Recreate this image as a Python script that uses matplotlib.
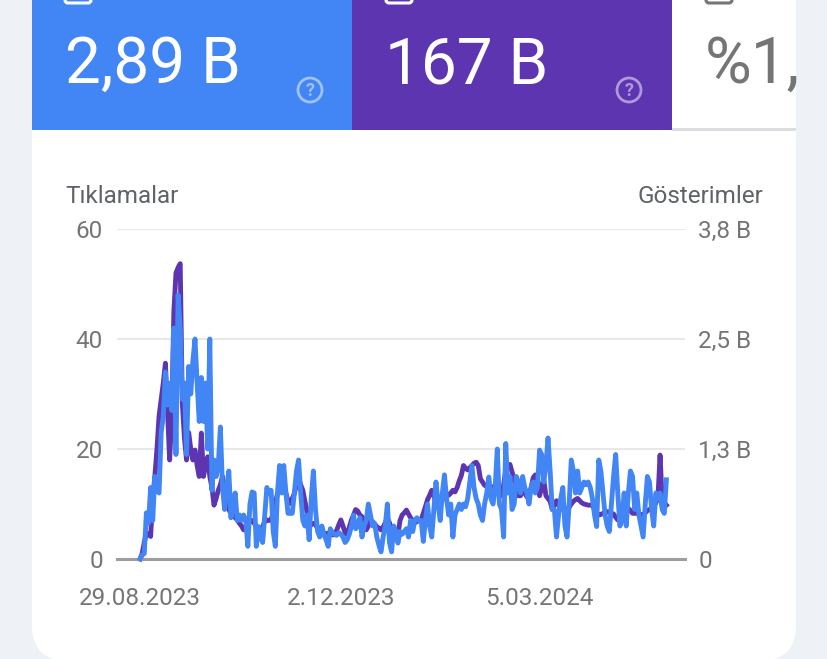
import matplotlib
matplotlib.use('Agg')
import matplotlib.pyplot as plt
from matplotlib.patches import FancyBboxPatch, Rectangle, Circle
import pandas as pd

plt.rcParams['font.family'] = ['Roboto', 'DejaVu Sans']

# ---- data ----
start_date = '2023-08-29'
clicks = [
    0, 0.7, 1, 8.4, 6.5, 13, 7, 15, 12.5, 12,
    23, 26, 34, 28, 32, 27, 42, 19, 48, 42,
    29, 32, 19, 35, 30, 36, 40, 32, 25, 33,
    25, 32, 20, 40, 12.5, 18, 15, 17, 24, 13,
    9, 13, 16, 7.5, 10, 12, 7, 8, 7, 8,
    7, 2.3, 10, 12.2, 12, 2.3, 5.9, 4, 3, 8,
    13, 12, 12.5, 5, 2.3, 12, 17, 12, 17, 12,
    8.3, 8.3, 8.3, 12, 16, 18, 12, 7, 6, 8,
    3.5, 11, 16, 9, 5, 4, 6, 4.5, 3.5, 2.3,
    5.5, 4.8, 4.5, 4.3, 4.8, 4.5, 4, 3, 3.5, 4.5,
    6, 8, 5.5, 6, 7.5, 4, 6, 7, 10, 8,
    6, 6.5, 4, 2.5, 1.3, 4, 6, 10, 3, 1.3,
    6, 5, 2.9, 5, 4.5, 5, 5.5, 4, 7, 5,
    7, 7.5, 7, 7, 3.2, 7, 10, 6, 4, 9,
    14, 10, 7, 12, 15.3, 11, 8, 10, 4, 8,
    9, 10, 9, 10, 9.5, 11, 14, 17, 13, 11,
    10, 8, 7, 10, 12, 14.9, 11, 10, 13, 20,
    10, 9, 4, 21, 12, 15, 9, 10, 15, 14,
    12, 15, 13, 12, 10, 13, 14, 12, 13, 19.8,
    19, 14, 17, 22, 16, 9, 9, 4, 8, 11,
    13, 6, 4, 10, 18, 16, 12, 16, 12, 13,
    14, 13.5, 14, 13, 11, 8, 5.9, 18, 16, 12,
    8, 6, 5, 10, 15, 19, 12, 6, 7, 12,
    6, 12, 16, 15, 9, 12, 8, 6, 4, 10,
    15, 14, 9, 6, 12, 11, 12, 9, 8.3, 14.4,
]
impressions = [
    0, 62, 188, 294, 281, 256, 688, 938, 1250, 1625,
    1812, 2000, 2225, 1688, 1125, 1619, 2812, 3250, 3312, 3356,
    1769, 1375, 1125, 1438, 1250, 1125, 1238, 1062, 938, 1431,
    938, 1062, 1162, 938, 812, 612, 688, 781, 844, 938,
    750, 594, 562, 519, 500, 469, 444, 406, 375, 331,
    362, 394, 425, 438, 406, 369, 331, 344, 369, 425,
    444, 438, 444, 531, 625, 744, 781, 825, 825, 750,
    656, 631, 688, 744, 844, 919, 844, 781, 656, 531,
    375, 388, 406, 394, 344, 294, 281, 275, 288, 294,
    288, 275, 275, 325, 388, 444, 375, 300, 275, 362,
    444, 500, 562, 544, 500, 481, 406, 331, 375, 438,
    425, 394, 369, 350, 331, 362, 412, 462, 412, 331,
    281, 250, 281, 438, 500, 525, 556, 512, 469, 438,
    412, 425, 438, 444, 519, 594, 675, 725, 781, 719,
    638, 594, 625, 669, 700, 712, 725, 750, 781, 762,
    812, 888, 950, 1062, 1031, 1012, 1038, 1062, 1088, 1100,
    1062, 912, 875, 838, 825, 825, 825, 819, 788, 762,
    725, 719, 844, 1012, 1062, 1075, 988, 900, 812, 719,
    719, 825, 750, 706, 725, 812, 925, 956, 931, 719,
    812, 900, 719, 688, 656, 562, 612, 662, 612, 581,
    562, 556, 569, 588, 625, 656, 675, 688, 662, 638,
    625, 619, 612, 612, 612, 562, 519, 500, 506, 519,
    525, 538, 531, 519, 512, 475, 444, 469, 500, 531,
    562, 575, 550, 519, 519, 519, 512, 506, 500, 525,
    550, 562, 575, 594, 638, 694, 1181, 669, 638, 612,
]
x_tick_dates = ['2023-08-29', '2023-12-02', '2024-03-05']
x_tick_labels = ['29.08.2023', '2.12.2023', '5.03.2024']
left_ticks = [0, 20, 40, 60]
left_tick_labels = ['0', '20', '40', '60']
right_ticks = [0, 1250, 2500, 3750]
right_tick_labels = ['0', '1,3 B', '2,5 B', '3,8 B']
tile_values = ['2,89 B', '167 B', '%1,']

dates_clicks = pd.date_range(start_date, periods=len(clicks), freq='D')
dates_impr = pd.date_range(start_date, periods=len(impressions), freq='D')

BLUE = '#4285f4'
PURPLE = '#5e35b1'
GREY_TXT = '#757575'

W, H = 828, 659
fig = plt.figure(figsize=(W / 100, H / 100), dpi=100)
fig.patch.set_facecolor('#eef2f7')

# background / card layer in pixel coordinates
bg = fig.add_axes([0, 0, 1, 1], zorder=0)
bg.set_xlim(0, W)
bg.set_ylim(H, 0)
bg.axis('off')

bg.add_patch(FancyBboxPatch((32, -60), 764, 721,
                            boxstyle='round,pad=0,rounding_size=36',
                            fc='white', ec='none'))
bg.add_patch(Rectangle((32, 0), 320, 130, fc=BLUE, ec='none'))
bg.add_patch(Rectangle((352, 0), 320, 130, fc=PURPLE, ec='none'))
bg.add_patch(Rectangle((672, 128), 124, 2.5, fc='#dadce0', ec='none'))

# cut-off checkboxes at the top
for xc, col in [(65, 'white'), (386, 'white'), (706, GREY_TXT)]:
    bg.add_patch(FancyBboxPatch((xc, -20), 26, 23,
                                boxstyle='round,pad=0,rounding_size=3',
                                fc='none', ec=col, lw=2.2))

bg.text(65, 83, tile_values[0], fontsize=46, color='white', va='baseline')
bg.text(385, 83, tile_values[1], fontsize=46, color='white', va='baseline')
bg.text(705, 83, tile_values[2], fontsize=46, color=GREY_TXT, va='baseline')

for cx in (310, 629):
    bg.add_patch(Circle((cx, 90), 12, fill=False, ec=(1, 1, 1, 0.5), lw=2))
    bg.text(cx, 90.5, '?', fontsize=13, color=(1, 1, 1, 0.5),
            ha='center', va='center', fontweight='bold')

bg.text(65, 203, 'Tıklamalar', fontsize=17.5, color='#5f6368', va='baseline')
bg.text(763, 203, 'Gösterimler', fontsize=17.5, color='#5f6368',
        va='baseline', ha='right')

# chart
ax = fig.add_axes([117 / W, 1 - 559 / H, (685 - 117) / W, (559 - 229) / H], zorder=2)
ax2 = ax.twinx()
ax.set_zorder(ax2.get_zorder() + 1)
ax.patch.set_visible(False)
ax2.patch.set_visible(False)

x0 = pd.Timestamp(start_date)
ax.set_xlim(x0 - pd.Timedelta(days=10.9), x0 + pd.Timedelta(days=257.8))
ax.set_ylim(0, 60)
ax2.set_ylim(0, 3750)

ax2.plot(dates_impr, impressions, color=PURPLE, lw=3.5,
         solid_joinstyle='round', clip_on=False)
ax.plot(dates_clicks, clicks, color=BLUE, lw=3.5,
        solid_joinstyle='round', clip_on=False)

ax.set_yticks(left_ticks)
ax.set_yticklabels(left_tick_labels)
ax2.set_yticks(right_ticks)
ax2.set_yticklabels(right_tick_labels)
ax.set_xticks([pd.Timestamp(d) for d in x_tick_dates])
ax.set_xticklabels(x_tick_labels)

ax2.grid(axis='y', color='#e8e8e8', lw=1.5)
ax2.set_axisbelow(True)

for a in (ax, ax2):
    for s in ('top', 'right', 'left', 'bottom'):
        a.spines[s].set_visible(False)
ax.spines['bottom'].set_visible(True)
ax.spines['bottom'].set_color('#9e9e9e')
ax.spines['bottom'].set_linewidth(2.2)
ax.spines['bottom'].set_zorder(0.5)

ax.tick_params(axis='y', length=0, pad=10, labelsize=17.5, labelcolor=GREY_TXT)
ax2.tick_params(axis='y', length=0, pad=9.5, labelsize=17.5, labelcolor=GREY_TXT)
ax.tick_params(axis='x', length=0, pad=20, labelsize=17.5, labelcolor=GREY_TXT)

fig.savefig('out.png', dpi=100, facecolor=fig.get_facecolor())
